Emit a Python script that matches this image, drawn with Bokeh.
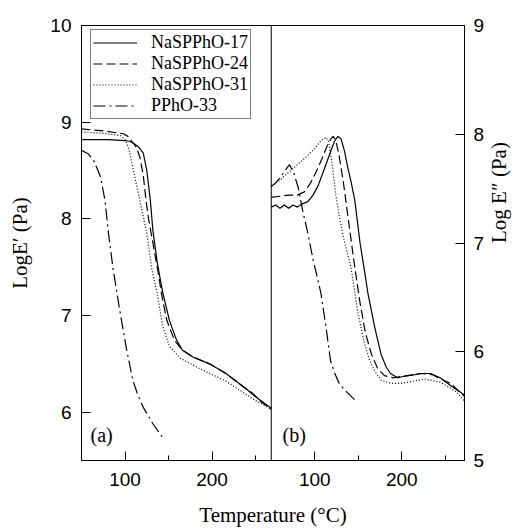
from math import pi
from bokeh.plotting import figure
from bokeh.models import Range1d, LinearAxis, FixedTicker, Span, Label, Legend, LegendItem
from bokeh.embed import file_html
from bokeh.resources import INLINE

# ---------------- data ----------------
# Panel (a): Log E' (Pa) vs temperature (C)
T_17_a = [50, 80, 100, 106, 110, 116, 121, 125, 129, 132, 137, 143, 151, 159, 166, 178, 197, 216, 238, 250, 268]
E1_17 = [8.82, 8.82, 8.81, 8.80, 8.78, 8.74, 8.68, 8.50, 8.20, 7.88, 7.55, 7.25, 6.95, 6.75, 6.64, 6.57, 6.50, 6.40, 6.25, 6.16, 6.04]

T_24_a = [50, 75, 98, 104, 108, 113, 117, 121, 124, 127, 132, 138, 142, 148, 157, 165, 178, 197, 216, 236, 246, 256, 268]
E1_24 = [8.93, 8.91, 8.88, 8.85, 8.80, 8.74, 8.64, 8.45, 8.20, 8.00, 7.75, 7.45, 7.22, 6.95, 6.74, 6.65, 6.57, 6.50, 6.40, 6.26, 6.20, 6.11, 6.03]

T_31_a = [50, 80, 95, 100, 104, 109, 113, 117, 121, 125, 131, 137, 143, 151, 163, 186, 216, 250, 268]
E1_31 = [8.90, 8.88, 8.86, 8.82, 8.74, 8.53, 8.36, 8.19, 8.02, 7.85, 7.47, 7.23, 6.90, 6.68, 6.56, 6.45, 6.32, 6.12, 6.03]

T_33_a = [50, 58, 64, 68, 72, 77, 81, 86, 94, 102, 109, 115, 121, 132, 143]
E1_33 = [8.71, 8.67, 8.60, 8.52, 8.43, 8.19, 7.85, 7.50, 7.05, 6.64, 6.33, 6.17, 6.05, 5.88, 5.74]

# Panel (b): Log E'' (Pa) vs temperature (C)
T_17_b = [50, 55, 60, 65, 70, 75, 80, 86, 92, 98, 104, 110, 115, 120, 123, 126.5, 130, 134, 138, 142, 146,
          152, 157, 161, 165, 169, 176, 182, 187, 195, 200, 207, 215, 222, 233, 244, 256, 267, 272]
E2_17 = [7.33, 7.35, 7.32, 7.35, 7.32, 7.35, 7.33, 7.36, 7.38, 7.44, 7.53, 7.66, 7.77, 7.88, 7.94, 7.98, 7.96,
         7.85, 7.69, 7.55, 7.39, 7.00, 6.75, 6.54, 6.38, 6.22, 5.98, 5.86, 5.80, 5.76, 5.77, 5.78, 5.79, 5.80,
         5.80, 5.76, 5.69, 5.63, 5.60]

T_24_b = [50, 60, 70, 80, 88, 95, 102, 108, 114, 118, 121, 124, 128, 133, 138, 143, 147, 152, 158, 165, 172,
          180, 190, 197, 207, 222, 235, 247, 256, 265, 272]
E2_24 = [7.42, 7.43, 7.44, 7.44, 7.47, 7.55, 7.66, 7.77, 7.89, 7.95, 7.98, 7.95, 7.80, 7.55, 7.25, 6.95, 6.72,
         6.45, 6.18, 5.98, 5.85, 5.78, 5.76, 5.77, 5.78, 5.80, 5.79, 5.74, 5.71, 5.64, 5.59]

T_31_b = [50, 60, 70, 80, 90, 100, 106, 110, 113, 116, 120, 124, 128, 133, 137, 141, 145, 149, 157, 163, 169,
          176, 187, 200, 207, 226, 244, 255, 264, 272]
E2_31 = [7.52, 7.58, 7.65, 7.72, 7.79, 7.87, 7.93, 7.96, 7.97, 7.93, 7.72, 7.45, 7.25, 7.05, 6.92, 6.80, 6.60,
         6.38, 6.08, 5.92, 5.82, 5.74, 5.71, 5.71, 5.72, 5.75, 5.72, 5.67, 5.62, 5.55]

T_33_b = [50, 56, 62, 67, 71, 76, 81, 86, 92, 98, 103, 107, 113, 118, 123, 128, 133, 138, 143, 147]
E2_33 = [7.52, 7.56, 7.62, 7.68, 7.72, 7.64, 7.51, 7.30, 7.09, 6.85, 6.68, 6.54, 6.22, 5.92, 5.80, 5.71, 5.66,
         5.62, 5.58, 5.55]

series_names = ["NaSPPhO-17", "NaSPPhO-24", "NaSPPhO-31", "PPhO-33"]
x_ticks = [100, 200]
x_minor = [150, 250]
y1_ticks = [6, 7, 8, 9, 10]
y2_ticks = [5, 6, 7, 8, 9]

# panel extents (temperature)
A_MIN, A_MAX = 50, 268
B_MIN, B_MAX = 50, 272
OFFSET = A_MAX - B_MIN  # panel (b) is placed to the right of panel (a)

dashes = ["solid", "9 4", "1 2", "12 4 2 4"]
LW = 1.2

p = figure(width=526, height=530, x_range=Range1d(A_MIN, B_MAX + OFFSET), y_range=Range1d(5.5, 10),
           output_backend="svg", toolbar_location=None,
           min_border_left=81, min_border_right=59, min_border_top=25, min_border_bottom=70)
p.extra_y_ranges = {"loss": Range1d(5, 9)}
p.xgrid.visible = False
p.ygrid.visible = False
p.background_fill_color = "white"
p.border_fill_color = "white"
p.outline_line_color = "black"
p.outline_line_width = 1
p.outline_line_alpha = 1

series_a = [(T_17_a, E1_17), (T_24_a, E1_24), (T_31_a, E1_31), (T_33_a, E1_33)]
series_b = [(T_17_b, E2_17), (T_24_b, E2_24), (T_31_b, E2_31), (T_33_b, E2_33)]

renderers = []
for (t, e), d in zip(series_a, dashes):
    r = p.line(t, e, line_color="black", line_width=LW, line_dash=d)
    renderers.append(r)
for (t, e), d in zip(series_b, dashes):
    p.line([v + OFFSET for v in t], e, line_color="black", line_width=LW, line_dash=d, y_range_name="loss")

# divider between panels
p.add_layout(Span(location=A_MAX, dimension="height", line_color="black", line_width=1))

# x axis
xa = p.xaxis[0]
xa.ticker = FixedTicker(ticks=x_ticks + [v + OFFSET for v in x_ticks],
                        minor_ticks=x_minor + [v + OFFSET for v in x_minor])
xa.major_label_overrides = {v + OFFSET: str(v) for v in x_ticks}
xa.axis_label = "Temperature (\u00b0C)"

# left y axis
ya = p.yaxis[0]
ya.ticker = FixedTicker(ticks=y1_ticks, minor_ticks=[])
ya.axis_label = "LogE\u2032 (Pa)"

# right y axis
yr = LinearAxis(y_range_name="loss")
yr.ticker = FixedTicker(ticks=y2_ticks, minor_ticks=[])
yr.axis_label = "Log E\u2033 (Pa)"
if "axis_label_orientation" in LinearAxis.properties():
    yr.axis_label_orientation = pi / 2
p.add_layout(yr, "right")

for ax in (xa, ya, yr):
    ax.axis_line_color = "black"
    ax.axis_line_width = 1
    ax.major_tick_in = 9
    ax.major_tick_out = 0
    ax.minor_tick_in = 5
    ax.minor_tick_out = 0
    ax.major_tick_line_color = "black"
    ax.minor_tick_line_color = "black"
    ax.major_label_text_font = "Liberation Sans"
    ax.major_label_text_font_size = "19px"
    ax.major_label_text_color = "black"
    ax.axis_label_text_font = "Liberation Serif"
    ax.axis_label_text_font_size = "21px"
    ax.axis_label_text_font_style = "normal"
    ax.axis_label_text_color = "black"

xa.major_label_standoff = 12
xa.axis_label_standoff = 14
ya.major_label_standoff = 10
ya.axis_label_standoff = 15
yr.major_label_standoff = 9
yr.axis_label_standoff = 12
yr.axis_label_text_line_height = 0.8

# panel tags
p.add_layout(Label(x=9, y=15, x_units="screen", y_units="screen", text="(a)",
                   text_font="Liberation Serif", text_font_size="20px", text_color="black"))
p.add_layout(Label(x=201, y=15, x_units="screen", y_units="screen", text="(b)",
                   text_font="Liberation Serif", text_font_size="20px", text_color="black"))

legend = Legend(items=[LegendItem(label=n, renderers=[r]) for n, r in zip(series_names, renderers)],
                location=(9, 341))
legend.border_line_color = "black"
legend.border_line_width = 1
legend.background_fill_color = "white"
legend.background_fill_alpha = 1
legend.label_text_font = "Liberation Serif"
legend.label_text_font_size = "18px"
legend.label_text_color = "black"
legend.glyph_width = 44
legend.glyph_height = 21
legend.label_height = 21
legend.label_standoff = 14
legend.padding = 2
legend.spacing = 0
legend.margin = 0
p.add_layout(legend)

open("out.html", "w").write(file_html(p, INLINE))
